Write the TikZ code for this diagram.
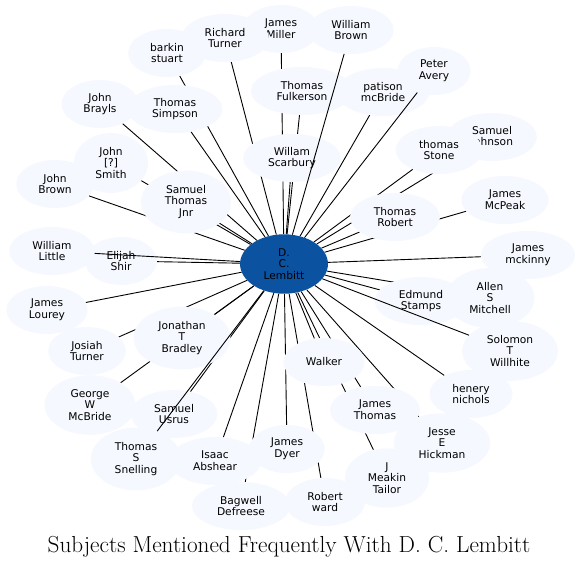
\documentclass[tikz,border=0pt]{standalone}
\usepackage{fontspec}
\newfontfamily\labfont{DejaVu Sans}
\usetikzlibrary{shapes.geometric}
\pgfdeclarelayer{background}
\pgfsetlayers{background,main}
\definecolor{nodefill}{RGB}{245,248,254}
\definecolor{centerfill}{RGB}{11,82,160}
\begin{document}
\begin{tikzpicture}[x=1pt,y=-1pt,
  person/.style={ellipse, fill=nodefill, draw=none, inner xsep=10.67pt, inner ysep=5.33pt,
    minimum width=72pt, minimum height=48pt, align=center,
    font=\labfont\fontsize{10.67}{11.7}\selectfont},
  hub/.style={person, fill=centerfill},
  link/.style={line width=0.9pt, black}]
\useasboundingbox (0,0) rectangle (578,568);

\node[person] (jmiller) at (281,29) {James\\Miller};
\node[person] (rturner) at (225,38) {Richard\\Turner};
\node[person] (wbrown) at (351,30) {William\\Brown};
\node[person] (bstuart) at (167,53) {barkin\\stuart};
\node[person] (pmcb) at (383,92) {patison\\mcBride};
\node[person] (pavery) at (434,71) {Peter\\Avery};
\node[person] (tfulk) at (302,91) {Thomas\\Fulkerson};
\node[person] (jbrayls) at (100,104) {John\\Brayls};
\node[person] (tsimpson) at (175,109) {Thomas\\Simpson};
\node[person] (sjohnson) at (492,137) {Samuel\\Johnson};
\node[person] (tstone) at (439,150) {thomas\\Stone};
\node[person] (jsmith) at (111,163) {John\\{[?]}\\Smith};
\node[person] (wscar) at (292,158) {Willam\\Scarbury};
\node[person] (jbrown) at (55,184) {John\\Brown};
\node[person] (stjnr) at (186,202) {Samuel\\Thomas\\Jnr};
\node[person] (jmcpeak) at (505,200) {James\\McPeak};
\node[person] (trobert) at (395,217) {Thomas\\Robert};
\node[person] (wlittle) at (52,251) {William\\Little};
\node[person] (eshir) at (121,261) {Elijah\\Shir};
\node[person] (jmckinny) at (528,255) {James\\mckinny};
\node[person] (amitchell) at (490,298) {Allen\\S\\Mitchell};
\node[person] (estamps) at (421,301) {Edmund\\Stamps};
\node[person] (jlourey) at (47,310) {James\\Lourey};
\node[person] (jtb) at (182,338) {Jonathan\\T\\Bradley};
\node[person] (stw) at (510,351) {Solomon\\T\\Willhite};
\node[person] (jturner) at (87,351) {Josiah\\Turner};
\node[person] (walker) at (324,362) {Walker};
\node[person] (hnichols) at (471,394) {henery\\nichols};
\node[person] (gwm) at (90,405) {George\\W\\McBride};
\node[person] (jthomas) at (375,410) {James\\Thomas};
\node[person] (susrus) at (174,414) {Samuel\\Usrus};
\node[person] (jeh) at (442,443) {Jesse\\E\\Hickman};
\node[person] (tss) at (136,459) {Thomas\\S\\Snelling};
\node[person] (bdef) at (241,506) {Bagwell\\Defreese};
\node[person] (iabshear) at (215,461) {Isaac\\Abshear};
\node[person] (jdyer) at (287,449) {James\\Dyer};
\node[person] (jmt) at (387,478) {J\\Meakin\\Tailor};
\node[person] (rward) at (325,502) {Robert\\ward};
\node[hub] (c) at (284,264) {D.\\C.\\Lembitt};

\begin{pgfonlayer}{background}
\foreach \n in {jmiller,rturner,bstuart,pmcb,tfulk,jbrayls,tsimpson,sjohnson,tstone,
  jsmith,wscar,jbrown,stjnr,jmcpeak,trobert,eshir,jmckinny,amitchell,estamps,jlourey,
  jtb,jturner,walker,hnichols,gwm,jthomas,susrus,jeh,bdef,iabshear,jdyer,jmt,rward}
  \draw[link] (c) -- (\n);
\end{pgfonlayer}
\foreach \n in {wlittle,tss,wbrown,stw,pavery}
  \draw[link] (c) -- (\n);

\node (title) at (289,547) {\fontsize{23.2}{27}\selectfont Subjects Mentioned Frequently With D. C. Lembitt};
\end{tikzpicture}
\end{document}
